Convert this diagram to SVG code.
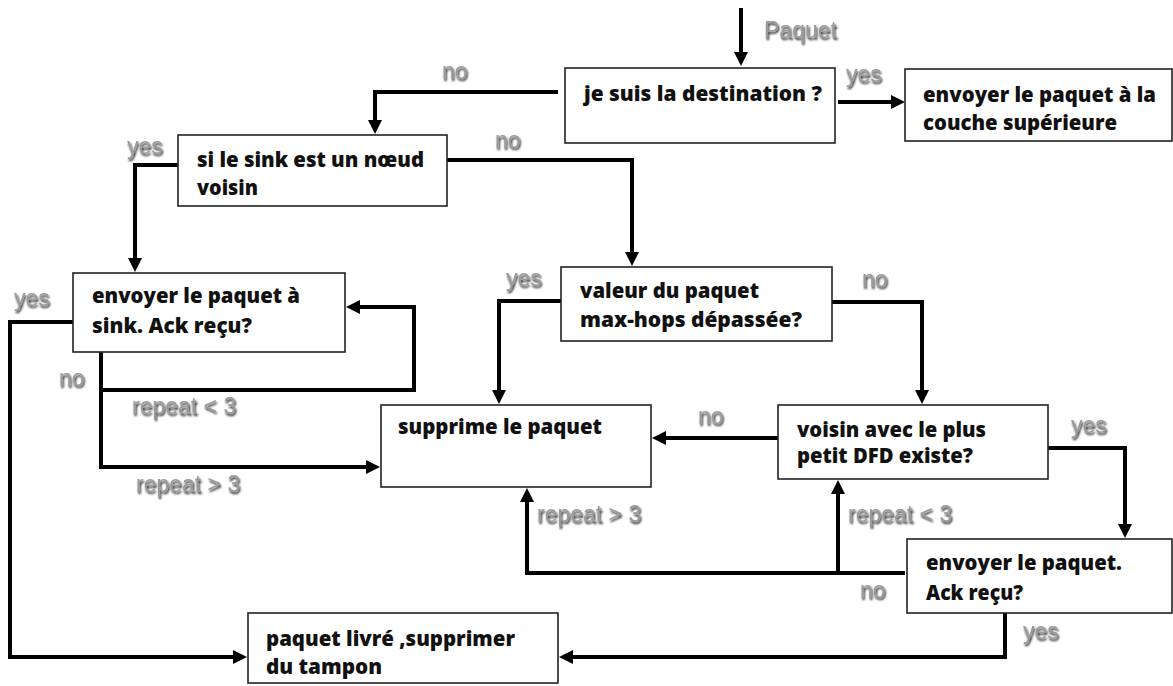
<svg xmlns="http://www.w3.org/2000/svg" width="1173" height="686" viewBox="0 0 1173 686">
<defs>
<marker id="ah" markerUnits="userSpaceOnUse" markerWidth="16" markerHeight="14" refX="8" refY="7" orient="auto">
<path d="M0,0 L14,7 L0,14 z" fill="#000"/>
</marker>
<filter id="sh" x="-10%" y="-30%" width="120%" height="160%">
<feGaussianBlur in="SourceAlpha" stdDeviation="1.3" result="b"/>
<feOffset in="b" dx="1" dy="1.5" result="o"/>
<feFlood flood-color="#000" flood-opacity="0.9"/>
<feComposite in2="o" operator="in" result="s"/>
<feMerge><feMergeNode in="s"/><feMergeNode in="SourceGraphic"/></feMerge>
</filter>
</defs>
<style>
.box{fill:#fff;stroke:#222;stroke-width:1.6}
.t{font-family:"Open Sans","Liberation Sans",sans-serif;font-weight:800;font-size:21px;fill:#111}
.lb{font-family:"Liberation Sans",Arial,sans-serif;font-size:23px;fill:#9a9a9a}
.ca{fill:none;stroke:#000;stroke-width:4;marker-end:url(#ah)}
</style>
<rect width="1173" height="686" fill="#fff"/>

<g id="connectors">
<path class="ca" d="M741,8 V60"/>
<path class="ca" d="M558,92 H375 V128"/>
<path class="ca" d="M838,102 H899"/>
<path class="ca" d="M447,160 H632 V260"/>
<path class="ca" d="M178,165 H135 V266"/>
<path class="ca" d="M73,322 H10 V657 H241"/>
<path class="ca" d="M101,352 V467 H374"/>
<path class="ca" d="M101,390 H414 V307 H352"/>
<path class="ca" d="M561,301 H499 V398"/>
<path class="ca" d="M832,302 H922 V398"/>
<path class="ca" d="M778,438 H658"/>
<path class="ca" d="M1048,448 H1125 V532"/>
<path class="ca" d="M905,573 H527 V494"/>
<path class="ca" d="M838,573 V486"/>
<path class="ca" d="M1005,613 V657 H565"/>
</g>

<g id="labels" filter="url(#sh)">
<text class="lb" x="764" y="38">Paquet</text>
<text class="lb" x="442" y="79">no</text>
<text class="lb" x="846" y="82">yes</text>
<text class="lb" x="495" y="148">no</text>
<text class="lb" x="127" y="154">yes</text>
<text class="lb" x="14" y="306">yes</text>
<text class="lb" x="59" y="386">no</text>
<text class="lb" x="132" y="414">repeat &lt; 3</text>
<text class="lb" x="136" y="492">repeat &gt; 3</text>
<text class="lb" x="506" y="286">yes</text>
<text class="lb" x="862" y="287">no</text>
<text class="lb" x="698" y="424">no</text>
<text class="lb" x="1071" y="433">yes</text>
<text class="lb" x="848" y="522">repeat &lt; 3</text>
<text class="lb" x="537" y="522">repeat &gt; 3</text>
<text class="lb" x="860" y="598">no</text>
<text class="lb" x="1023" y="639">yes</text>
</g>

<g id="n-dest">
<rect class="box" x="565" y="68" width="270" height="75"/>
<text class="t" x="584" y="101" textLength="238" lengthAdjust="spacingAndGlyphs">je suis la destination ?</text>
</g>
<g id="n-upper">
<rect class="box" x="905" y="69" width="267" height="72"/>
<text class="t" x="923" y="102" textLength="233" lengthAdjust="spacingAndGlyphs">envoyer le paquet à la</text>
<text class="t" x="923" y="130" textLength="194" lengthAdjust="spacingAndGlyphs">couche supérieure</text>
</g>
<g id="n-sink">
<rect class="box" x="178" y="135" width="269" height="71"/>
<text class="t" x="197" y="167" textLength="227" lengthAdjust="spacingAndGlyphs">si le sink est un nœud</text>
<text class="t" x="197" y="195" textLength="61" lengthAdjust="spacingAndGlyphs">voisin</text>
</g>
<g id="n-sendsink">
<rect class="box" x="73" y="273" width="272" height="79"/>
<text class="t" x="92" y="303" textLength="208" lengthAdjust="spacingAndGlyphs">envoyer le paquet à</text>
<text class="t" x="92" y="333" textLength="160" lengthAdjust="spacingAndGlyphs">sink. Ack reçu?</text>
</g>
<g id="n-maxhops">
<rect class="box" x="561" y="267" width="271" height="74"/>
<text class="t" x="580" y="298" textLength="179" lengthAdjust="spacingAndGlyphs">valeur du paquet</text>
<text class="t" x="580" y="327" textLength="222" lengthAdjust="spacingAndGlyphs">max-hops dépassée?</text>
</g>
<g id="n-drop">
<rect class="box" x="381" y="405" width="270" height="82"/>
<text class="t" x="398" y="434" textLength="204" lengthAdjust="spacingAndGlyphs">supprime le paquet</text>
</g>
<g id="n-dfd">
<rect class="box" x="778" y="405" width="270" height="74"/>
<text class="t" x="797" y="437" textLength="189" lengthAdjust="spacingAndGlyphs">voisin avec le plus</text>
<text class="t" x="797" y="463" textLength="176" lengthAdjust="spacingAndGlyphs">petit DFD existe?</text>
</g>
<g id="n-send">
<rect class="box" x="907" y="539" width="265" height="74"/>
<text class="t" x="926" y="570" textLength="196" lengthAdjust="spacingAndGlyphs">envoyer le paquet.</text>
<text class="t" x="926" y="600" textLength="97" lengthAdjust="spacingAndGlyphs">Ack reçu?</text>
</g>
<g id="n-delivered">
<rect class="box" x="248" y="613" width="310" height="70"/>
<text class="t" x="266" y="646" textLength="249" lengthAdjust="spacingAndGlyphs">paquet livré ,supprimer</text>
<text class="t" x="266" y="674" textLength="116" lengthAdjust="spacingAndGlyphs">du tampon</text>
</g>
</svg>
